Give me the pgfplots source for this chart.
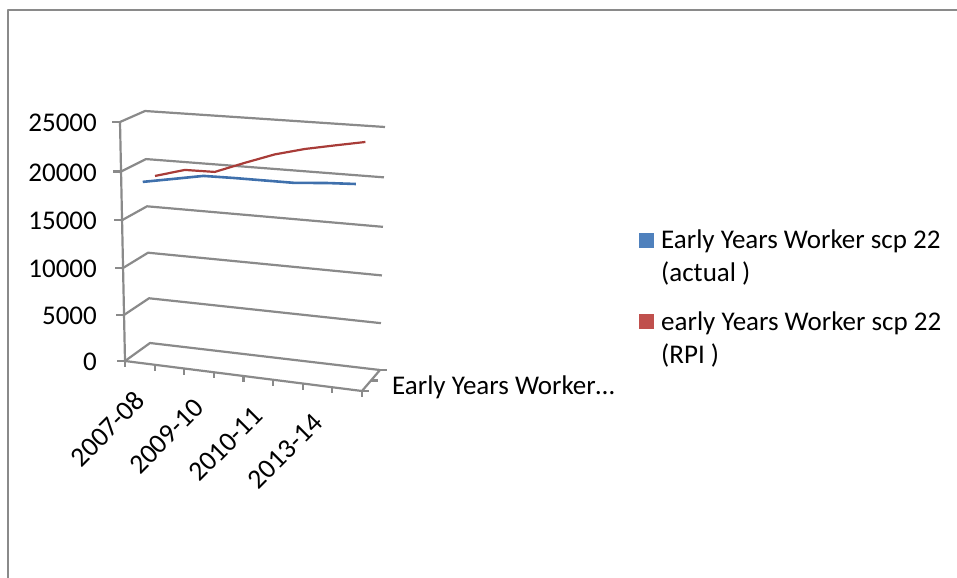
\documentclass[border=0pt]{standalone}
\usepackage{pgfplots}
\usepackage{pgfplotstable}
\usepackage{fontspec}
\pgfplotsset{compat=1.18}
\setmainfont{Carlito}

\definecolor{cagegray}{HTML}{8A8A8A}
\definecolor{bluekey}{HTML}{4F81BD}
\definecolor{redkey}{HTML}{C0504D}
\definecolor{blueline}{HTML}{3F70AC}
\definecolor{redline}{HTML}{A83C38}

% Salaries per category slot (0 to 7)
\pgfplotstableread{
cat value
0 18750
1 19320
2 19890
3 19940
4 19950
5 19960
6 20210
7 20360
}\actualpay
\pgfplotstableread{
cat value
0 18690
1 19570
2 19610
3 20780
4 21870
5 22640
6 23220
7 23770
}\rpipay
% Side wall and back wall path of one gridline
\pgfplotstableread{
u v
0 0
0 1
1 1
}\gridpath
\pgfplotstableread{
value label
0 0
5000 5000
10000 10000
15000 15000
20000 20000
25000 25000
}\valuelabels
\pgfplotstableread{
cat label
0 2007-08
2 2009-10
4 2010-11
6 2013-14
}\catlabels
% Tick stubs: offsets from the axis, with a step number beside them
\pgfplotstableread{
step off
0 -8
1 0
}\vtick
\pgfplotstableread{
step off
0 0
1 6
}\ctick
\pgfplotstableread{
step off
0 0
1 7
}\dtick
% Axis runs from start to end
\pgfplotstableread{
step t
0 0
1 1
}\axisrun
\pgfplotstableread[col sep=comma]{
depth,label
0.5,Early Years Worker…
}\depthlabel

\newcommand{\chartfont}{\fontsize{27bp}{33bp}\selectfont}
\newcommand{\slantfont}{\fontsize{27.6bp}{33bp}\selectfont}

\begin{document}
\begin{tikzpicture}
\useasboundingbox (0,0) rectangle (957bp,578bp);
\begin{axis}[
  scale only axis, width=957bp, height=578bp,
  xmin=0, xmax=957, ymin=0, ymax=578, y dir=reverse,
  axis lines=none, clip=true,
  % Perspective of the chart box: u along categories, v in depth, w in height
  declare function={
    rise(\w)=\w-0.045*\w*(1-\w);
    prx(\u,\v,\w)=(1-rise(\w))*(125+237*\u+\v*(25-7*\u))+rise(\w)*(120+248*\u+\v*(25-8*\u));
    pry(\u,\v,\w)=(1-rise(\w))*(361+30*\u+\v*(-18-3*\u))+rise(\w)*(122+19*\u+\v*(-11-3*\u));
  },
  legend style={at={(axis cs:639,228)}, anchor=north west, draw=none, fill=none,
    inner sep=0pt, font=\chartfont, row sep=24bp,
    cells={align=left, anchor=west}},
  legend cell align=left,
  cage/.style={draw=cagegray, line width=2.2bp, forget plot, line join=round},
  ticklabel/.style={draw=none, mark=none, forget plot, nodes near coords,
    point meta=explicit symbolic,
    every node near coord/.append style={font=\chartfont, text=black, inner sep=0pt, #1}},
]
% Chart frame
\addplot[cage] coordinates {(8,578) (8,10) (957,10)};

% Gridlines on the side and back walls
\pgfplotsinvokeforeach{0,5000,10000,15000,20000,25000}{
  \addplot[cage] table[
    x expr={prx(\thisrow{u},\thisrow{v},#1/25000)},
    y expr={pry(\thisrow{u},\thisrow{v},#1/25000)}] {\gridpath};
  \addplot[cage] table[
    x expr={prx(0,0,#1/25000)+\thisrow{off}},
    y expr={pry(0,0,#1/25000)}] {\vtick};
}
% Value axis, category axis and depth axis
\addplot[cage] table[x expr={prx(0,0,\thisrow{t})}, y expr={pry(0,0,\thisrow{t})}] {\axisrun};
\addplot[cage] table[x expr={prx(\thisrow{t},0,0)}, y expr={pry(\thisrow{t},0,0)}] {\axisrun};
\addplot[cage] table[x expr={prx(1,\thisrow{t},0)}, y expr={pry(1,\thisrow{t},0)}] {\axisrun};
% Category ticks
\pgfplotsinvokeforeach{0,1,2,3,4,5,6,7,8}{
  \addplot[cage] table[
    x expr={prx(#1/8,0,0)},
    y expr={pry(#1/8,0,0)+\thisrow{off}}] {\ctick};
}
% Depth ticks
\pgfplotsinvokeforeach{0,0.5,1}{
  \addplot[cage] table[
    x expr={prx(1,#1,0)+\thisrow{off}},
    y expr={pry(1,#1,0)}] {\dtick};
}

% Salary series
\addplot[blueline, line width=2.6bp, line join=round,
  legend image code/.code={\path[draw=none, fill=none] (0bp,9bp) rectangle (20bp,24bp);
    \path[draw=none, fill=bluekey] (0bp,9bp) rectangle (15bp,24bp);}]
  table[x expr={prx((\thisrow{cat}+0.5)/8,0.25,\thisrow{value}/25000)},
        y expr={pry((\thisrow{cat}+0.5)/8,0.25,\thisrow{value}/25000)}] {\actualpay};
\addlegendentry{Early Years Worker scp 22\\(actual )}
\addplot[redline, line width=2.2bp, line join=round,
  legend image code/.code={\path[draw=none, fill=none] (0bp,9bp) rectangle (20bp,24bp);
    \path[draw=none, fill=redkey] (0bp,9bp) rectangle (15bp,24bp);}]
  table[x expr={prx((\thisrow{cat}+0.5)/8,0.75,\thisrow{value}/25000)},
        y expr={pry((\thisrow{cat}+0.5)/8,0.75,\thisrow{value}/25000)}] {\rpipay};
\addlegendentry{early Years Worker scp 22\\(RPI )}

% Axis labels
\addplot[ticklabel={anchor=east}] table[
  x expr={97}, y expr={pry(0,0,\thisrow{value}/25000)+1}, meta=label] {\valuelabels};
\addplot[ticklabel={anchor=center, rotate=45, font=\slantfont}] table[
  x expr={prx((\thisrow{cat}+0.5)/8,0,0)-32.5},
  y expr={pry((\thisrow{cat}+0.5)/8,0,0)+66}, meta=label] {\catlabels};
\addplot[ticklabel={anchor=west}] table[
  x expr={prx(1,\thisrow{depth},0)+21},
  y expr={pry(1,\thisrow{depth},0)+7}, meta=label] {\depthlabel};
\end{axis}
\end{tikzpicture}
\end{document}
